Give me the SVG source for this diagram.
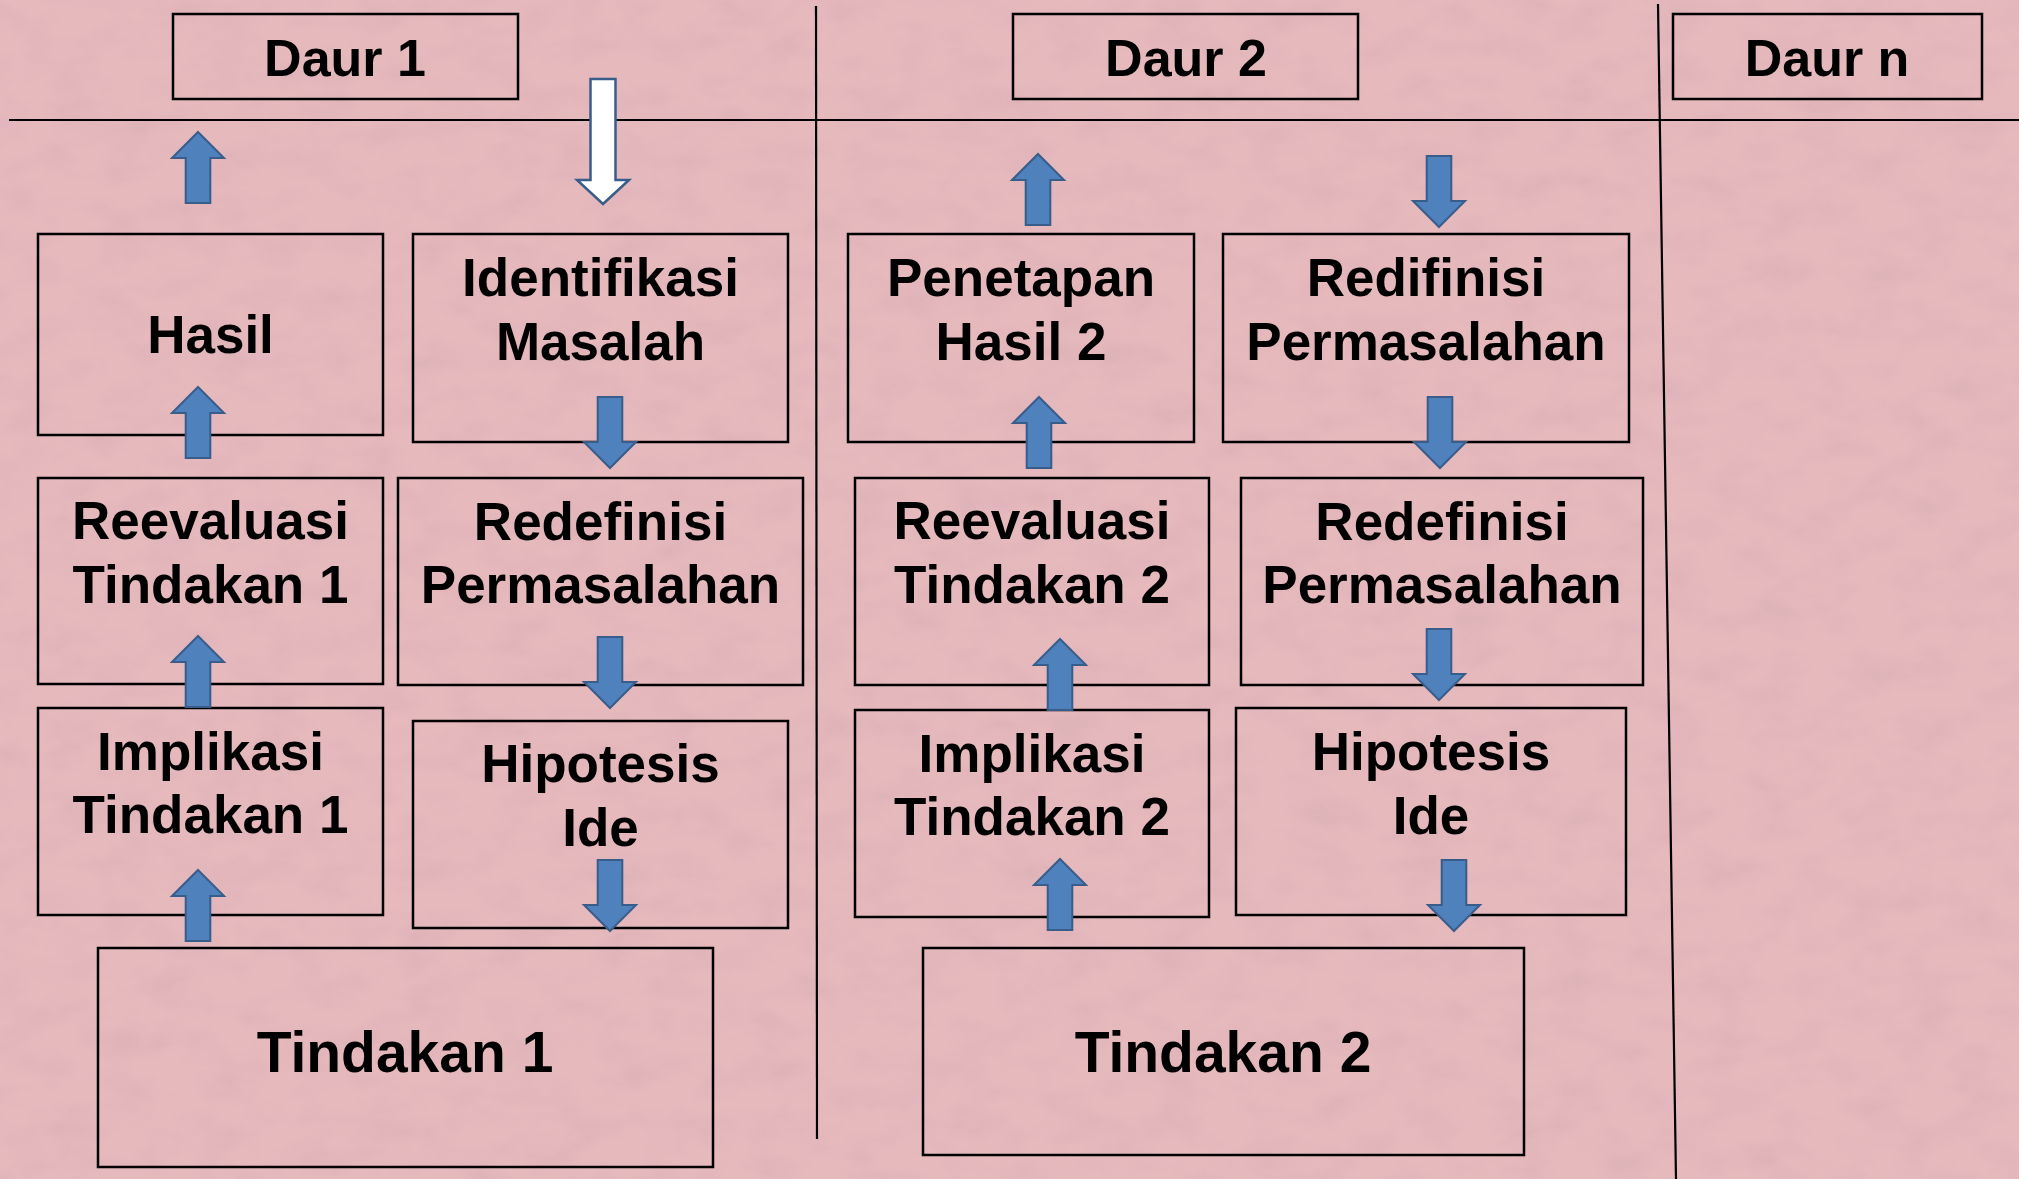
<svg xmlns="http://www.w3.org/2000/svg" xmlns:xlink="http://www.w3.org/1999/xlink" width="2019" height="1179" viewBox="0 0 2019 1179">
<style>
.bx{fill:none;stroke:#000;stroke-width:2.5}
.ln{stroke:#000;stroke-width:2.2;fill:none}
.t{font-family:"Liberation Sans",Arial,sans-serif;font-weight:bold;font-size:53px;fill:#000;text-anchor:middle}
.h{font-size:52px}
.big{font-size:57px}
.ar{fill:#4F81BD;stroke:#385D8A;stroke-width:2}
.aw{fill:#fff;stroke:#385D8A;stroke-width:2.5}
</style>
<defs>
<filter id="paper" x="0" y="0" width="100%" height="100%">
<feTurbulence type="fractalNoise" baseFrequency="0.02 0.035" numOctaves="4" seed="7"/>
<feColorMatrix type="matrix" values="0 0 0 0 0.55  0 0 0 0 0.35  0 0 0 0 0.38  0 0 0 -1.2 0.75"/>
</filter>
<path id="up" d="M0,0 L26,26 L12.3,26 L12.3,71 L-12.3,71 L-12.3,26 L-26,26 Z"/>
<path id="dn" d="M0,0 L26,-26 L12.3,-26 L12.3,-71 L-12.3,-71 L-12.3,-26 L-26,-26 Z"/>
</defs>
<rect width="2019" height="1179" fill="#e6b9bd"/>
<rect width="2019" height="1179" filter="url(#paper)" opacity="0.35"/>

<g id="dividers">
<line class="ln" x1="9" y1="120" x2="2019" y2="120"/>
<line class="ln" x1="816" y1="6" x2="817" y2="1139"/>
<line class="ln" x1="1658" y1="4" x2="1676" y2="1179"/>
</g>

<g id="daur1"><rect class="bx" x="173" y="14" width="345" height="85"/><text class="t h" x="345" y="76">Daur 1</text></g>
<g id="daur2"><rect class="bx" x="1013" y="14" width="345" height="85"/><text class="t h" x="1186" y="76">Daur 2</text></g>
<g id="daurn"><rect class="bx" x="1673" y="14" width="309" height="85"/><text class="t h" x="1827" y="76">Daur n</text></g>

<g id="hasil"><rect class="bx" x="38" y="234" width="345" height="201"/><text class="t" x="210.5" y="353">Hasil</text></g>
<g id="identifikasi"><rect class="bx" x="413" y="234" width="375" height="208"/><text class="t" x="600.5" y="296">Identifikasi</text><text class="t" x="600.5" y="360">Masalah</text></g>
<g id="reevaluasi1"><rect class="bx" x="38" y="478" width="345" height="206"/><text class="t" x="210.5" y="539">Reevaluasi</text><text class="t" x="210.5" y="603">Tindakan 1</text></g>
<g id="redefinisi1"><rect class="bx" x="398" y="478" width="405" height="207"/><text class="t" x="600.5" y="540">Redefinisi</text><text class="t" x="600.5" y="603">Permasalahan</text></g>
<g id="implikasi1"><rect class="bx" x="38" y="708" width="345" height="207"/><text class="t" x="210.5" y="770">Implikasi</text><text class="t" x="210.5" y="833">Tindakan 1</text></g>
<g id="hipotesis1"><rect class="bx" x="413" y="721" width="375" height="207"/><text class="t" x="600.5" y="782">Hipotesis</text><text class="t" x="600.5" y="846">Ide</text></g>
<g id="tindakan1"><rect class="bx" x="98" y="948" width="615" height="219"/><text class="t big" x="405" y="1072">Tindakan 1</text></g>

<g id="penetapan2"><rect class="bx" x="848" y="234" width="346" height="208"/><text class="t" x="1021" y="296">Penetapan</text><text class="t" x="1021" y="360">Hasil 2</text></g>
<g id="redifinisi2"><rect class="bx" x="1223" y="234" width="406" height="208"/><text class="t" x="1426" y="296">Redifinisi</text><text class="t" x="1426" y="360">Permasalahan</text></g>
<g id="reevaluasi2"><rect class="bx" x="855" y="478" width="354" height="207"/><text class="t" x="1032" y="539">Reevaluasi</text><text class="t" x="1032" y="603">Tindakan 2</text></g>
<g id="redefinisi2"><rect class="bx" x="1241" y="478" width="402" height="207"/><text class="t" x="1442" y="540">Redefinisi</text><text class="t" x="1442" y="603">Permasalahan</text></g>
<g id="implikasi2"><rect class="bx" x="855" y="710" width="354" height="207"/><text class="t" x="1032" y="772">Implikasi</text><text class="t" x="1032" y="835">Tindakan 2</text></g>
<g id="hipotesis2"><rect class="bx" x="1236" y="708" width="390" height="207"/><text class="t" x="1431" y="770">Hipotesis</text><text class="t" x="1431" y="834">Ide</text></g>
<g id="tindakan2"><rect class="bx" x="923" y="948" width="601" height="207"/><text class="t big" x="1223" y="1072">Tindakan 2</text></g>

<g id="connectors">
<path class="aw" d="M603,204 L629,180 L615.5,180 L615.5,79 L590.5,79 L590.5,180 L577,180 Z"/>
<use class="ar" xlink:href="#up" href="#up" x="198" y="132"/>
<use class="ar" xlink:href="#up" href="#up" x="198" y="387"/>
<use class="ar" xlink:href="#up" href="#up" x="198" y="636"/>
<use class="ar" xlink:href="#up" href="#up" x="198" y="870"/>
<use class="ar" xlink:href="#up" href="#up" x="1038" y="154"/>
<use class="ar" xlink:href="#up" href="#up" x="1039" y="397"/>
<use class="ar" xlink:href="#up" href="#up" x="1060" y="639"/>
<use class="ar" xlink:href="#up" href="#up" x="1060" y="859"/>
<use class="ar" xlink:href="#dn" href="#dn" x="610" y="468"/>
<use class="ar" xlink:href="#dn" href="#dn" x="610" y="708"/>
<use class="ar" xlink:href="#dn" href="#dn" x="610" y="931"/>
<use class="ar" xlink:href="#dn" href="#dn" x="1439" y="227"/>
<use class="ar" xlink:href="#dn" href="#dn" x="1440" y="468"/>
<use class="ar" xlink:href="#dn" href="#dn" x="1439" y="700"/>
<use class="ar" xlink:href="#dn" href="#dn" x="1454" y="931"/>
</g>
</svg>
